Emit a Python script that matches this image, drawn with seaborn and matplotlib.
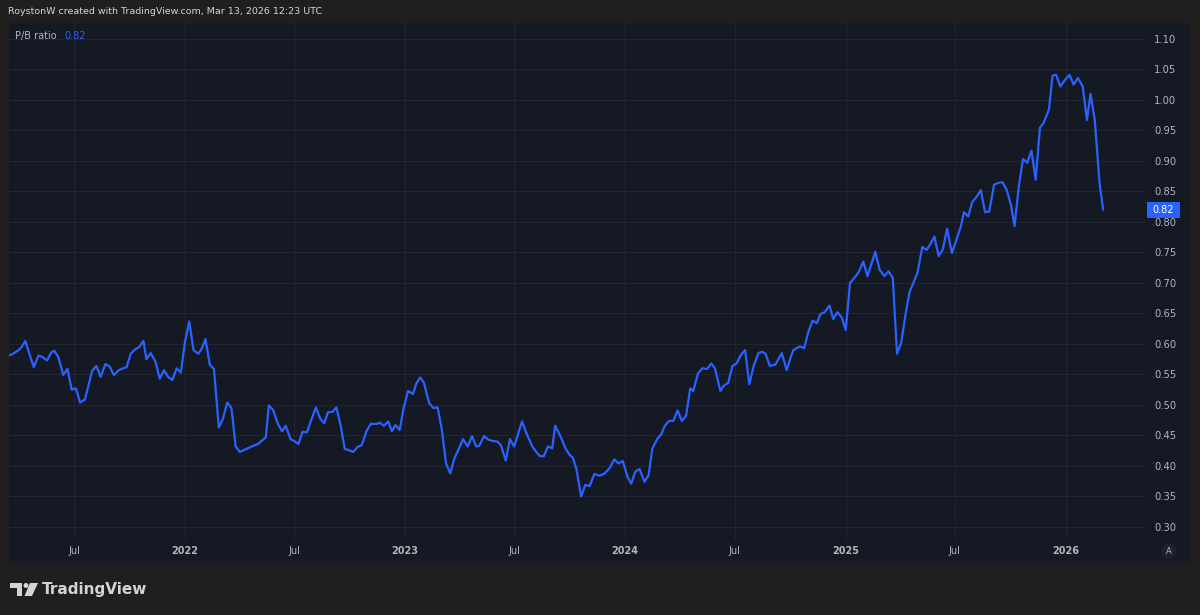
"""P/B ratio chart in the TradingView dark style."""

import pandas as pd
import matplotlib.pyplot as plt
import seaborn as sns
from matplotlib.patches import Rectangle, Ellipse, Polygon
from matplotlib.transforms import blended_transform_factory

# weekly P/B ratio readings
dates = [
    "2021-03-14", "2021-03-20", "2021-03-31", "2021-04-05", "2021-04-11", "2021-04-25",
    "2021-05-03", "2021-05-09", "2021-05-17", "2021-05-24", "2021-05-29", "2021-06-05",
    "2021-06-13", "2021-06-20", "2021-06-27", "2021-07-04", "2021-07-11", "2021-07-19",
    "2021-07-31", "2021-08-07", "2021-08-14", "2021-08-22", "2021-08-29", "2021-09-05",
    "2021-09-13", "2021-09-20", "2021-09-26", "2021-10-03", "2021-10-10", "2021-10-17",
    "2021-10-24", "2021-10-29", "2021-11-05", "2021-11-13", "2021-11-20", "2021-11-27",
    "2021-12-04", "2021-12-11", "2021-12-18", "2021-12-25", "2022-01-01", "2022-01-08",
    "2022-01-15", "2022-01-23", "2022-01-28", "2022-02-04", "2022-02-11", "2022-02-18",
    "2022-02-26", "2022-03-05", "2022-03-12", "2022-03-19", "2022-03-26", "2022-04-02",
    "2022-04-13", "2022-04-24", "2022-05-02", "2022-05-15", "2022-05-20", "2022-05-27",
    "2022-06-04", "2022-06-11", "2022-06-17", "2022-06-25", "2022-07-01", "2022-07-08",
    "2022-07-15", "2022-07-22", "2022-07-30", "2022-08-06", "2022-08-13", "2022-08-20",
    "2022-08-26", "2022-09-03", "2022-09-09", "2022-09-16", "2022-09-23", "2022-09-29",
    "2022-10-07", "2022-10-14", "2022-10-21", "2022-10-29", "2022-11-05", "2022-11-15",
    "2022-11-20", "2022-11-27", "2022-12-04", "2022-12-10", "2022-12-16", "2022-12-23",
    "2022-12-30", "2023-01-06", "2023-01-14", "2023-01-20", "2023-01-26", "2023-02-01",
    "2023-02-10", "2023-02-17", "2023-02-24", "2023-03-03", "2023-03-10", "2023-03-17",
    "2023-03-24", "2023-04-01", "2023-04-07", "2023-04-15", "2023-04-22", "2023-04-29",
    "2023-05-04", "2023-05-12", "2023-05-19", "2023-05-27", "2023-06-03", "2023-06-09",
    "2023-06-17", "2023-06-24", "2023-07-01", "2023-07-14", "2023-07-22", "2023-07-31",
    "2023-08-08", "2023-08-13", "2023-08-19", "2023-08-26", "2023-09-02", "2023-09-07",
    "2023-09-16", "2023-09-24", "2023-10-01", "2023-10-06", "2023-10-12", "2023-10-20",
    "2023-10-27", "2023-11-03", "2023-11-11", "2023-11-19", "2023-11-27", "2023-12-06",
    "2023-12-14", "2023-12-21", "2023-12-28", "2024-01-05", "2024-01-11", "2024-01-18",
    "2024-01-25", "2024-02-02", "2024-02-09", "2024-02-15", "2024-02-23", "2024-03-01",
    "2024-03-07", "2024-03-14", "2024-03-21", "2024-03-28", "2024-04-04", "2024-04-11",
    "2024-04-18", "2024-04-23", "2024-05-01", "2024-05-08", "2024-05-16", "2024-05-23",
    "2024-05-29", "2024-06-07", "2024-06-13", "2024-06-20", "2024-06-27", "2024-07-04",
    "2024-07-11", "2024-07-18", "2024-07-25", "2024-08-01", "2024-08-09", "2024-08-15",
    "2024-08-21", "2024-08-28", "2024-09-06", "2024-09-17", "2024-09-25", "2024-10-02",
    "2024-10-06", "2024-10-17", "2024-10-24", "2024-10-31", "2024-11-07", "2024-11-14",
    "2024-11-20", "2024-11-27", "2024-12-05", "2024-12-11", "2024-12-18", "2024-12-25",
    "2025-01-01", "2025-01-08", "2025-01-15", "2025-01-22", "2025-01-30", "2025-02-06",
    "2025-02-19", "2025-02-26", "2025-03-06", "2025-03-13", "2025-03-20", "2025-03-27",
    "2025-04-03", "2025-04-10", "2025-04-17", "2025-04-24", "2025-04-30", "2025-05-08",
    "2025-05-15", "2025-05-21", "2025-05-28", "2025-06-04", "2025-06-11", "2025-06-18",
    "2025-06-26", "2025-07-04", "2025-07-11", "2025-07-16", "2025-07-23", "2025-07-30",
    "2025-08-06", "2025-08-13", "2025-08-20", "2025-08-27", "2025-09-04", "2025-09-11",
    "2025-09-18", "2025-09-25", "2025-10-02", "2025-10-08", "2025-10-15", "2025-10-22",
    "2025-10-29", "2025-11-05", "2025-11-12", "2025-11-19", "2025-11-25", "2025-12-04",
    "2025-12-10", "2025-12-16", "2025-12-23", "2025-12-30", "2026-01-07", "2026-01-14",
    "2026-01-21", "2026-01-29", "2026-02-05", "2026-02-11", "2026-02-18", "2026-02-26",
    "2026-03-04",
]
pb_ratio = [
    0.581, 0.583, 0.590, 0.595, 0.605, 0.562,
    0.581, 0.579, 0.573, 0.586, 0.589, 0.578,
    0.549, 0.559, 0.525, 0.527, 0.504, 0.509,
    0.556, 0.564, 0.546, 0.567, 0.563, 0.549,
    0.557, 0.560, 0.562, 0.584, 0.591, 0.595,
    0.605, 0.575, 0.585, 0.571, 0.543, 0.557,
    0.546, 0.541, 0.560, 0.553, 0.604, 0.637,
    0.590, 0.584, 0.591, 0.608, 0.566, 0.559,
    0.463, 0.478, 0.504, 0.495, 0.432, 0.423,
    0.428, 0.433, 0.436, 0.447, 0.499, 0.492,
    0.469, 0.457, 0.466, 0.444, 0.441, 0.436,
    0.456, 0.455, 0.477, 0.496, 0.478, 0.470,
    0.488, 0.489, 0.496, 0.467, 0.428, 0.426,
    0.423, 0.431, 0.434, 0.457, 0.469, 0.469,
    0.471, 0.466, 0.473, 0.457, 0.467, 0.459,
    0.497, 0.523, 0.518, 0.536, 0.545, 0.537,
    0.503, 0.495, 0.496, 0.459, 0.404, 0.388,
    0.413, 0.430, 0.444, 0.432, 0.449, 0.432,
    0.433, 0.449, 0.443, 0.441, 0.440, 0.434,
    0.409, 0.444, 0.432, 0.473, 0.452, 0.432,
    0.421, 0.416, 0.416, 0.432, 0.429, 0.466,
    0.448, 0.429, 0.418, 0.414, 0.396, 0.350,
    0.369, 0.367, 0.387, 0.384, 0.387, 0.396,
    0.411, 0.404, 0.408, 0.382, 0.371, 0.391,
    0.395, 0.374, 0.385, 0.428, 0.444, 0.452,
    0.466, 0.474, 0.474, 0.491, 0.474, 0.482,
    0.527, 0.523, 0.552, 0.560, 0.559, 0.568,
    0.560, 0.523, 0.532, 0.536, 0.564, 0.568,
    0.582, 0.590, 0.534, 0.563, 0.585, 0.587,
    0.584, 0.564, 0.566, 0.585, 0.557, 0.579,
    0.590, 0.596, 0.593, 0.620, 0.638, 0.634,
    0.649, 0.652, 0.663, 0.641, 0.652, 0.644,
    0.623, 0.700, 0.708, 0.717, 0.735, 0.711,
    0.751, 0.722, 0.711, 0.719, 0.708, 0.584,
    0.602, 0.648, 0.686, 0.702, 0.717, 0.759,
    0.754, 0.763, 0.776, 0.744, 0.755, 0.789,
    0.749, 0.772, 0.793, 0.816, 0.809, 0.833,
    0.841, 0.852, 0.816, 0.817, 0.861, 0.864,
    0.865, 0.852, 0.828, 0.793, 0.858, 0.903,
    0.897, 0.917, 0.869, 0.954, 0.962, 0.984,
    1.040, 1.041, 1.022, 1.032, 1.041, 1.025,
    1.036, 1.022, 0.967, 1.010, 0.967, 0.863,
    0.820,
]

x_ticks = ["2021-07-01", "2022-01-01", "2022-07-01", "2023-01-01", "2023-07-01",
           "2024-01-01", "2024-07-01", "2025-01-01", "2025-07-01", "2026-01-01"]
x_labels = ["Jul", "2022", "Jul", "2023", "Jul", "2024", "Jul", "2025", "Jul", "2026"]
y_ticks = [0.30, 0.35, 0.40, 0.45, 0.50, 0.55, 0.60, 0.65, 0.70,
           0.75, 0.80, 0.85, 0.90, 0.95, 1.00, 1.05, 1.10]

OUTER_BG = "#1f1f1f"
PANEL_BG = "#151924"
GRID = "#212532"
LINE = "#2962ff"
TEXT = "#b2b5be"

W, H = 1200, 615


def fx(px):
    return px / W


def fy(py):
    return 1 - py / H


sns.set_style("dark")
plt.rcParams["font.family"] = ["DejaVu Sans"]

df = pd.DataFrame({"date": pd.to_datetime(dates), "pb": pb_ratio})

fig = plt.figure(figsize=(12, 6.15), dpi=100)
fig.patch.set_facecolor(OUTER_BG)

# chart panel (plot + both scales)
fig.add_artist(Rectangle((fx(9), fy(563)), fx(1190 - 9), (563 - 23) / H,
                         transform=fig.transFigure, facecolor=PANEL_BG,
                         edgecolor="none", zorder=0))

ax = fig.add_axes([fx(9), fy(540), fx(1146 - 9), (540 - 23) / H])
ax.set_facecolor(PANEL_BG)

sns.lineplot(data=df, x="date", y="pb", ax=ax, color=LINE, linewidth=1.6, zorder=3)

ax.set_xlim(pd.Timestamp("2021-03-15"), pd.Timestamp("2026-05-14"))
ax.set_ylim(0.2787, 1.126)

ax.set_xticks(pd.to_datetime(x_ticks))
ax.set_xticklabels(x_labels)
for lbl in ax.get_xticklabels():
    if lbl.get_text() != "Jul":
        lbl.set_fontweight("bold")
        lbl.set_color("#d1d4dc")

ax.set_yticks(y_ticks)
ax.set_yticklabels([f"{v:.2f}" for v in y_ticks])
ax.yaxis.tick_right()

ax.tick_params(axis="x", length=0, pad=4, labelsize=7, labelcolor=TEXT)
ax.tick_params(axis="y", length=0, pad=6, labelsize=7.2, labelcolor=TEXT)
ax.grid(True, color=GRID, linewidth=0.8)
ax.set_xlabel("")
ax.set_ylabel("")
for s in ax.spines.values():
    s.set_visible(False)

# last value marker on price scale
trans = blended_transform_factory(ax.transAxes, ax.transData)
last = pb_ratio[-1]
ax.add_patch(Rectangle((1.0009, last - 0.0131), 0.029, 0.0262, transform=trans,
                       facecolor=LINE, edgecolor="none", clip_on=False, zorder=5))
ax.text(1.0155, last, f"{last:.2f}", transform=trans, ha="center", va="center",
        color="white", fontsize=7, clip_on=False, zorder=6)

# legend
fig.text(fx(15), fy(36), "P/B ratio", color=TEXT, fontsize=7, va="center")
fig.text(fx(64), fy(36), f"{last:.2f}", color=LINE, fontsize=7, va="center")

# header
fig.text(fx(8), fy(12), "RoystonW created with TradingView.com, Mar 13, 2026 12:23 UTC",
         color="#d1d4dc", fontsize=6.8, va="center")

# auto-scale button
fig.add_artist(Ellipse((fx(1169), fy(551)), 15 / W, 15 / H, transform=fig.transFigure,
                       facecolor="#1e2230", edgecolor="none", zorder=2))
fig.text(fx(1169), fy(551), "A", color=TEXT, fontsize=6, ha="center", va="center")

# TradingView logo
logo = "#d4d4d4"
fig.add_artist(Polygon([(fx(10), fy(583)), (fx(22), fy(583)), (fx(22), fy(596)),
                        (fx(16.5), fy(596)), (fx(16.5), fy(588)), (fx(10), fy(588))],
                       closed=True, transform=fig.transFigure, facecolor=logo,
                       edgecolor="none"))
fig.add_artist(Ellipse((fx(26), fy(585.5)), 5 / W, 5 / H, transform=fig.transFigure,
                       facecolor=logo, edgecolor="none"))
fig.add_artist(Polygon([(fx(30), fy(583)), (fx(38), fy(583)), (fx(32), fy(596)),
                        (fx(24.5), fy(596))], closed=True, transform=fig.transFigure,
                       facecolor=logo, edgecolor="none"))
fig.text(fx(42), fy(589.5), "TradingView", color=logo, fontsize=11,
         fontweight="bold", va="center")

fig.savefig("out.png", dpi=100, facecolor=OUTER_BG)
